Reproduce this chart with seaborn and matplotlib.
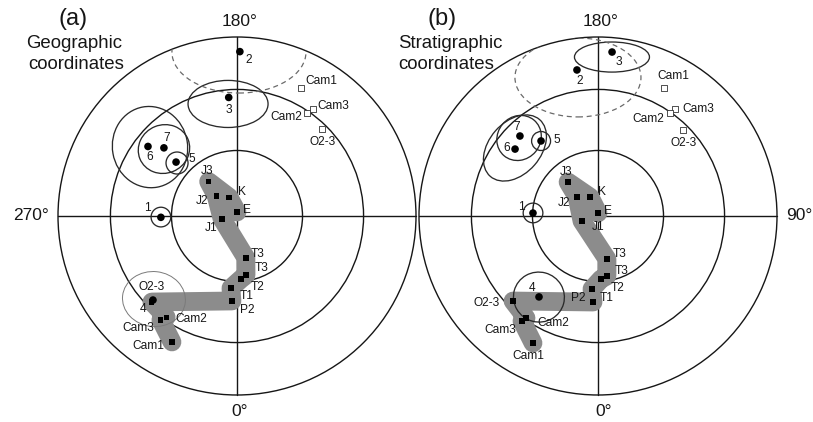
import numpy as np
import pandas as pd
import matplotlib
matplotlib.use("Agg")
import matplotlib.pyplot as plt
from matplotlib.patches import Circle, Ellipse
import seaborn as sns

# ---------------- palaeomagnetic directions (declination, inclination; degrees) ----------------
# (a) geographic coordinates
geo_site_names = ["1", "2", "3", "4", "5", "6", "7"]
geo_site_dec = [271.0, 179.0, 184.0, 315.0, 228.5, 232.0, 227.0]
geo_site_inc = [55.0, 9.0, 34.0, 34.0, 52.5, 37.0, 43.5]

geo_mean_names = ["E", "K", "J3", "J2", "J1", "T3", "T3", "T2", "T1", "P2", "O2-3", "Cam2", "Cam3", "Cam1"]
geo_mean_dec = [180.0, 203.0, 219.5, 226.0, 281.0, 12.0, 8.7, 3.6, 355.2, 356.6, 315.3, 325.0, 323.8, 332.7]
geo_mean_inc = [88.2, 80.7, 69.7, 76.9, 83.1, 70.5, 62.7, 61.1, 56.8, 50.7, 32.9, 31.6, 28.8, 21.9]

geo_up_names = ["Cam1", "Cam3", "Cam2", "O2-3"]
geo_up_dec = [153.4, 144.6, 145.8, 135.7]
geo_up_inc = [-21.2, -27.5, -31.1, -32.6]

# (b) stratigraphic coordinates
strat_site_names = ["1", "2", "3", "4", "5", "6", "7"]
strat_site_dec = [267.4, 188.2, 175.1, 323.9, 217.2, 231.1, 224.3]
strat_site_inc = [60.2, 18.7, 8.9, 43.4, 46.3, 40.2, 37.6]

strat_mean_names = ["E", "K", "J3", "J2", "J1", "T3", "T3", "T2", "T1", "P2", "O2-3", "Cam2", "Cam3", "Cam1"]
strat_mean_dec = [180.0, 202.8, 221.4, 227.9, 287.3, 11.8, 8.5, 2.7, 355.3, 356.7, 315.0, 324.8, 324.1, 332.9]
strat_mean_inc = [88.6, 80.7, 69.4, 77.2, 82.4, 70.0, 62.3, 61.1, 56.4, 50.2, 33.3, 30.9, 28.4, 21.4]

strat_up_names = ["Cam1", "Cam3", "Cam2", "O2-3"]
strat_up_dec = [152.7, 144.3, 145.0, 135.3]
strat_up_inc = [-20.7, -27.2, -30.5, -32.9]

# confidence ovals on the projection: centre x, centre y, width, height, tilt (deg),
# in units of the primitive radius
geo_ovals = [(-0.425, -0.006, 0.11, 0.11, 0), (-0.050, 0.626, 0.447, 0.263, 0),
             (-0.335, 0.296, 0.123, 0.123, 0), (-0.408, 0.374, 0.29, 0.27, 22),
             (-0.486, 0.385, 0.42, 0.455, 10), (-0.464, -0.464, 0.352, 0.307, -6)]
geo_dashed_oval = (0.011, 0.916, 0.749, 0.458, 0)

strat_ovals = [(-0.363, 0.017, 0.11, 0.11, 0), (0.078, 0.888, 0.419, 0.168, 0),
               (-0.318, 0.419, 0.106, 0.106, 0), (-0.441, 0.436, 0.26, 0.24, 50),
               (-0.464, 0.380, 0.42, 0.29, 49), (-0.330, -0.453, 0.285, 0.279, -15)]
strat_dashed_oval = (-0.112, 0.774, 0.704, 0.441, 0)

inclination_rings = [30, 60]

# label placement (pixels right / down from each symbol)
geo_site_off = [(-14, -9), (9, 8), (0, 13), (-10, 9), (16, -3), (2, 11), (3, -10)]
geo_mean_off = [(10, -2), (13, -5), (-2, -11), (-14, 5), (-11, 9), (12, -4), (16, -7), (17, 8),
                (16, 8), (15, 9), (0, -15), (25, 2), (-23, 8), (-24, 4)]
geo_up_off = [(20, -7), (20, -3), (-21, 4), (1, 13)]
strat_site_off = [(-12, -6), (3, 11), (7, 10), (-7, -9), (16, -1), (-8, -1), (-3, -9)]
strat_mean_off = [(10, -2), (12, -5), (-2, -10), (-13, 6), (16, 6), (13, -5), (15, -5), (17, 9),
                  (15, 9), (-15, -4), (-26, 2), (27, 5), (-22, 9), (-5, 13)]
strat_up_off = [(9, -12), (23, 0), (-22, 6), (1, 13)]

# ---------------- styling ----------------
sns.set_theme(style="white")
plt.rcParams["font.family"] = ["Liberation Sans", "DejaVu Sans"]
INK = "#161616"
OVAL = "#2a2a2a"
BAND = "#8c8c8c"

W, H = 813, 422
RADIUS_PX = 179
SPAN = 1.16
fig = plt.figure(figsize=(W / 100, H / 100), dpi=100)
fig.patch.set_facecolor("white")


def project(dec, inc):
    """Equal-area (Schmidt) projection, 0 deg at the bottom, 90 deg to the right."""
    d = np.radians(np.asarray(dec, float))
    i = np.abs(np.asarray(inc, float))
    r = np.sqrt(2.0) * np.sin(np.radians(90.0 - i) / 2.0)
    return r * np.sin(d), -r * np.cos(d)


def add_panel(cx, cy):
    half = SPAN * RADIUS_PX
    ax = fig.add_axes([(cx - half) / W, (H - cy - half) / H, 2 * half / W, 2 * half / H])
    ax.set_xlim(-SPAN, SPAN)
    ax.set_ylim(-SPAN, SPAN)
    ax.axis("off")
    return ax


def label(ax, names, xs, ys, offsets):
    for n, x, y, (dx, dy) in zip(names, xs, ys, offsets):
        ax.annotate(n, (x, y), xytext=(dx * 0.72, -dy * 0.72), textcoords="offset points",
                    ha="center", va="center", fontsize=8.6, color=INK, zorder=8)


def draw_panel(ax, site_names, site_dec, site_inc, mean_names, mean_dec, mean_inc,
               up_names, up_dec, up_inc, ovals, dashed, site_off, mean_off, up_off, faint_last):
    # primitive, inclination rings and diameters
    primitive = Circle((0, 0), 1.0, fill=False, lw=1.0, ec=INK, zorder=2)
    ax.add_patch(primitive)
    for inc in inclination_rings:
        r = np.sqrt(2.0) * np.sin(np.radians(90.0 - inc) / 2.0)
        ax.add_patch(Circle((0, 0), r, fill=False, lw=1.0, ec=INK, zorder=2))
    ax.plot([-1, 1], [0, 0], color=INK, lw=1.0, zorder=2)
    ax.plot([0, 0], [-1, 1], color=INK, lw=1.0, zorder=2)

    # apparent polar wander trend band through the formation means
    bx, by = project(mean_dec, mean_inc)
    band = pd.DataFrame({"x": bx, "y": by})
    sns.lineplot(data=band, x="x", y="y", sort=False, estimator=None, ax=ax, color=BAND,
                 linewidth=13.5, solid_joinstyle="round", solid_capstyle="round", zorder=3)

    # confidence ovals
    for k, (ex, ey, ew, eh, ang) in enumerate(ovals):
        faint = faint_last and k == len(ovals) - 1
        ax.add_patch(Ellipse((ex, ey), ew, eh, angle=ang, fill=False,
                             lw=0.7 if faint else 0.95,
                             ec="#7a7a7a" if faint else OVAL, zorder=4))
    ex, ey, ew, eh, ang = dashed
    dash = Ellipse((ex, ey), ew, eh, angle=ang, fill=False, lw=0.9, ec="#6a6a6a",
                   linestyle=(0, (4, 3)), zorder=4)
    ax.add_patch(dash)
    dash.set_clip_path(primitive)

    # site means (dots)
    sx, sy = project(site_dec, site_inc)
    sns.scatterplot(x=sx, y=sy, marker="o", s=30, color="black", edgecolor="none",
                    ax=ax, zorder=6, legend=False)
    # formation means, lower hemisphere (filled squares)
    sns.scatterplot(x=bx, y=by, marker="s", s=14, color="black", edgecolor="none",
                    ax=ax, zorder=6, legend=False)
    # formation means, upper hemisphere (open squares)
    ux, uy = project(up_dec, up_inc)
    sns.scatterplot(x=ux, y=uy, marker="s", s=16, color="white", edgecolor="#333333",
                    linewidth=0.6, ax=ax, zorder=6, legend=False)

    label(ax, site_names, sx, sy, site_off)
    label(ax, mean_names, bx, by, mean_off)
    label(ax, up_names, ux, uy, up_off)


def fig_text(xp, yp, s, **kw):
    fig.text(xp / W, 1 - yp / H, s, color=INK, **kw)


ax_a = add_panel(237, 216)
draw_panel(ax_a, geo_site_names, geo_site_dec, geo_site_inc, geo_mean_names, geo_mean_dec,
           geo_mean_inc, geo_up_names, geo_up_dec, geo_up_inc, geo_ovals, geo_dashed_oval,
           geo_site_off, geo_mean_off, geo_up_off, faint_last=True)

ax_b = add_panel(598, 216)
draw_panel(ax_b, strat_site_names, strat_site_dec, strat_site_inc, strat_mean_names,
           strat_mean_dec, strat_mean_inc, strat_up_names, strat_up_dec, strat_up_inc,
           strat_ovals, strat_dashed_oval, strat_site_off, strat_mean_off, strat_up_off,
           faint_last=False)

# panel titles
fig_text(73, 25, "(a)", fontsize=17, ha="center", va="baseline")
fig_text(26, 48, "Geographic", fontsize=13.4, ha="left", va="baseline")
fig_text(28, 69, "coordinates", fontsize=13.4, ha="left", va="baseline")
fig_text(442, 25, "(b)", fontsize=17, ha="center", va="baseline")
fig_text(398, 48, "Stratigraphic", fontsize=13.4, ha="left", va="baseline")
fig_text(398, 69, "coordinates", fontsize=13.4, ha="left", va="baseline")

# declination labels
fig_text(240, 21, "180°", fontsize=12.5, ha="center", va="center")
fig_text(240, 411, "0°", fontsize=12.5, ha="center", va="center")
fig_text(31, 216, "270°", fontsize=12.5, ha="center", va="center")
fig_text(601, 21, "180°", fontsize=12.5, ha="center", va="center")
fig_text(604, 411, "0°", fontsize=12.5, ha="center", va="center")
fig_text(799, 216, "90°", fontsize=12.5, ha="center", va="center")

fig.savefig("out.png", dpi=100, facecolor="white")
